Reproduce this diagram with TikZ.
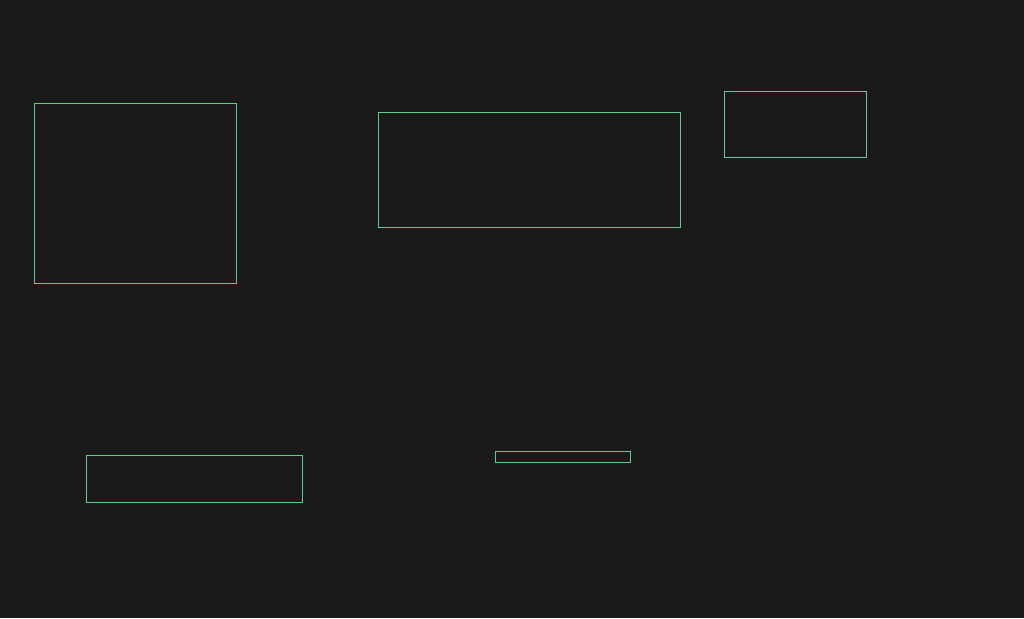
\documentclass[tikz,border=0pt]{standalone}
\definecolor{bgdark}{HTML}{1A1A1A}
\definecolor{boxgreen}{HTML}{5CCF8E}
\definecolor{boxmuted}{HTML}{6FC79E}
\tikzset{
  frame/.style={draw=boxgreen, line width=1pt, inner sep=0pt, outer sep=0pt, anchor=north west},
  framemuted/.style={frame, draw=boxmuted}
}
\begin{document}
\begin{tikzpicture}[x=1pt,y=-1pt]
\fill[bgdark] (0,0) rectangle (1024,618);
\useasboundingbox (0,0) rectangle (1024,618);
\node[frame, minimum width=202pt, minimum height=180pt] (b1) at (34.5,103.5) {};
\node[frame, minimum width=302pt, minimum height=115pt] (b2) at (378.5,112.5) {};
\node[framemuted, minimum width=142pt, minimum height=66pt] (b3) at (724.5,91.5) {};
\node[frame, minimum width=216pt, minimum height=47pt] (b4) at (86.5,455.5) {};
\node[frame, minimum width=135pt, minimum height=11pt] (b5) at (495.5,451.5) {};
\end{tikzpicture}
\end{document}
